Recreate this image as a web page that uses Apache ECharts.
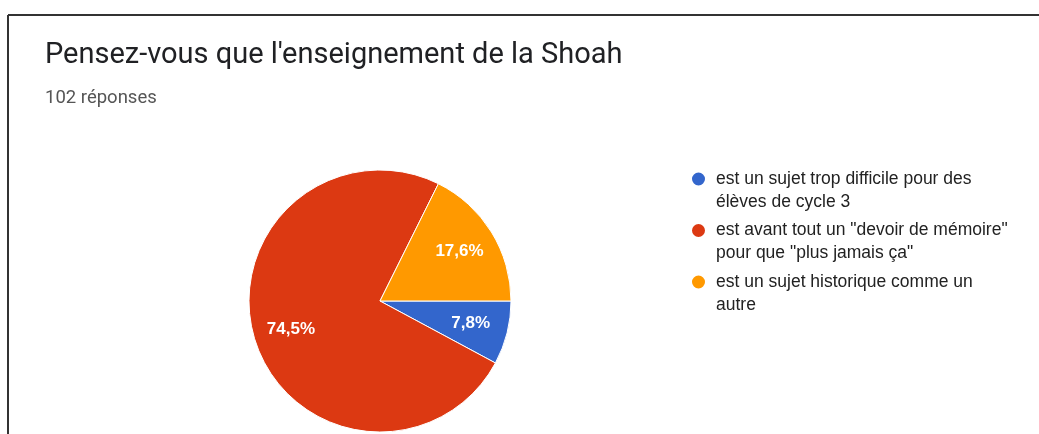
<!DOCTYPE html>
<html>
<head>
<meta charset="utf-8">
<script src="https://cdn.jsdelivr.net/npm/echarts@6/dist/echarts.min.js"></script>
<style>
  html, body { margin: 0; padding: 0; background: #fff; }
  #pie-map { width: 1039px; height: 434px; }
</style>
</head>
<body>
<div id="pie-map"></div>
<script>
// données du graphique
let reponses = [
    'est un sujet trop difficile pour des élèves de cycle 3',
    'est avant tout un "devoir de mémoire" pour que "plus jamais ça"',
    'est un sujet historique comme un autre'
];
let legendeLignes = [
    'est un sujet trop difficile pour des\nélèves de cycle 3',
    'est avant tout un "devoir de mémoire"\npour que "plus jamais ça"',
    'est un sujet historique comme un\nautre'
];
let effectifs = [8, 76, 18];
let colors = ['#3366cc', '#dc3912', '#ff9900'];

let total = effectifs.reduce(function (a, b) { return a + b; }, 0);
let pieData = reponses.map(function (nom, i) {
    return { name: nom, value: effectifs[i] };
});

let myChart = echarts.init(document.getElementById('pie-map'));

let option = {
    color: colors,
    animation: false,
    title: {
        text: "Pensez-vous que l'enseignement de la Shoah",
        subtext: total + ' réponses',
        left: 45,
        top: 41,
        padding: 0,
        itemGap: 19,
        textStyle: {
            fontFamily: 'Roboto',
            fontSize: 29,
            fontWeight: 'normal',
            color: '#202124'
        },
        subtextStyle: {
            fontFamily: 'Roboto',
            fontSize: 18.5,
            color: '#555'
        }
    },
    legend: {
        orient: 'vertical',
        left: 690,
        top: 144.5,
        padding: 0,
        itemGap: -17.5,
        itemWidth: 15,
        itemHeight: 15,
        icon: 'circle',
        data: reponses,
        // ligne vide devant : l'icône se cale sur la première ligne du texte
        formatter: function (name) {
            return '\n' + legendeLignes[reponses.indexOf(name)];
        },
        textStyle: {
            fontFamily: 'Liberation Sans',
            fontSize: 17.5,
            lineHeight: 23,
            color: '#222',
            padding: [0, 0, 0, 5]
        }
    },
    graphic: [
        { type: 'line', shape: { x1: 8, y1: 15, x2: 1039, y2: 15 }, style: { stroke: '#333', lineWidth: 2 } },
        { type: 'line', shape: { x1: 8, y1: 15, x2: 8, y2: 434 }, style: { stroke: '#333', lineWidth: 2 } }
    ],
    series: [
        {
            type: 'pie',
            center: [380, 301],
            radius: [0, 131],
            startAngle: 0,
            clockwise: true,
            silent: true,
            data: pieData,
            itemStyle: { borderColor: '#fff', borderWidth: 1 },
            label: { show: false },
            labelLine: { show: false }
        },
        {
            // série transparente qui sert seulement à placer les pourcentages
            type: 'pie',
            center: [380, 301],
            radius: [50, 131],
            startAngle: 0,
            clockwise: true,
            silent: true,
            data: pieData,
            itemStyle: { color: 'rgba(0,0,0,0)' },
            label: {
                show: true,
                position: 'inside',
                color: '#fff',
                fontFamily: 'Liberation Sans',
                fontSize: 17,
                fontWeight: 'bold',
                formatter: function (p) {
                    return (p.value / total * 100).toFixed(1).replace('.', ',') + '%';
                }
            },
            labelLine: { show: false }
        }
    ]
};

myChart.setOption(option);
window.addEventListener('resize', function () {
    myChart.resize();
});
</script>
</body>
</html>
